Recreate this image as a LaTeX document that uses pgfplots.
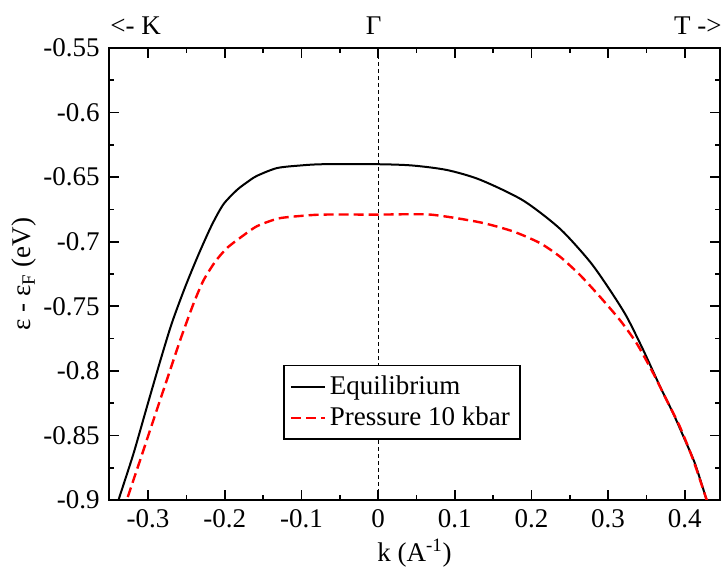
\documentclass[border=0pt]{standalone}
\usepackage{fontspec}
\setmainfont{Liberation Serif}
\usepackage{pgfplots}
\pgfplotsset{compat=1.18}
\begin{document}
\fontsize{13.5}{16}\selectfont
\begin{tikzpicture}
\path[use as bounding box] (-54.5pt,-35.5pt) rectangle (307.5pt,250pt);
\begin{axis}[
  name=ax,
  scale only axis, width=305.5pt, height=226pt,
  at={(0,0)}, anchor=south west,
  xmin=-0.351, xmax=0.446, ymin=-0.9, ymax=-0.55,
  xtick={-0.3,-0.2,-0.1,0,0.1,0.2,0.3,0.4},
  xticklabels={-0.3,-0.2,-0.1,0,0.1,0.2,0.3,0.4},
  ytick={-0.9,-0.85,-0.8,-0.75,-0.7,-0.65,-0.6,-0.55},
  yticklabels={-0.9,-0.85,-0.8,-0.75,-0.7,-0.65,-0.6,-0.55},
  minor x tick num=1, minor y tick num=1,
  tick align=inside, major tick length=5pt, minor tick length=2.5pt,
  axis line style={line width=1pt}, every tick/.style={black, line width=0.8pt},
  xlabel={k (A\textsuperscript{-1})},
  ylabel={ε - ε\textsubscript{F} (eV)},
  xlabel style={at={(axis description cs:0.5,-0.117)}, anchor=center},
  ylabel style={at={(axis description cs:-0.139,0.5)}, anchor=center},
  legend style={at={(rel axis cs:0.2848,0.2993)}, anchor=north west, draw=black, line width=0.8pt, font=\fontsize{13.5}{16}\selectfont, inner sep=3pt},
  legend cell align=left,
  legend image post style={line width=1pt},
]
\addplot[black, forget plot, dash pattern=on 2pt off 1.5pt, line width=0.5pt] coordinates {(0,-0.9) (0,-0.55)};
\addplot[black, line width=1pt, smooth, tension=0.45] coordinates {
(-0.343,-0.909) (-0.3386,-0.900) (-0.319,-0.864) (-0.3016,-0.828) (-0.284,-0.792)
(-0.269,-0.763) (-0.2516,-0.735) (-0.2343,-0.710) (-0.2168,-0.687) (-0.2017,-0.671)
(-0.1842,-0.660) (-0.171,-0.654) (-0.158,-0.649) (-0.132,-0.643) (-0.102,-0.641)
(-0.072,-0.640) (0.0,-0.640) (0.045,-0.641) (0.09,-0.6445) (0.133,-0.652)
(0.189,-0.668) (0.2373,-0.690) (0.2764,-0.7155) (0.3025,-0.7375) (0.3242,-0.758)
(0.346,-0.784) (0.3677,-0.812) (0.385,-0.833) (0.4003,-0.8536) (0.4133,-0.8717)
(0.4286,-0.900) (0.433,-0.909)
};
\addlegendentry{Equilibrium}
\addplot[red, line width=1.2pt, dash pattern=on 5pt off 2.5pt, smooth, tension=0.4] coordinates {
(-0.331,-0.909) (-0.3277,-0.900) (-0.3103,-0.869) (-0.293,-0.838) (-0.2755,-0.807)
(-0.258,-0.776) (-0.2408,-0.748) (-0.2278,-0.730) (-0.2125,-0.7155) (-0.1973,-0.705)
(-0.18,-0.697) (-0.158,-0.688) (-0.130,-0.682) (-0.100,-0.680) (-0.072,-0.679)
(0,-0.679) (0.068,-0.679) (0.133,-0.685) (0.176,-0.692) (0.211,-0.701)
(0.2373,-0.7116) (0.2634,-0.7258) (0.2894,-0.7426) (0.3155,-0.7607) (0.3373,-0.7787)
(0.359,-0.802) (0.3764,-0.8227) (0.3937,-0.8433) (0.4111,-0.8691) (0.4286,-0.900)
(0.433,-0.909)
};
\addlegendentry{Pressure 10 kbar}
\end{axis}
\node[anchor=base west, inner sep=0pt] at ([xshift=0.5pt,yshift=6.5pt]ax.north west) {<- K};
\node[anchor=base east, inner sep=0pt] at ([xshift=1pt,yshift=6.5pt]ax.north east) {T ->};
\node[anchor=base, inner sep=0pt] at ([xshift=132.4pt,yshift=6.5pt]ax.north west) {Γ};
\end{tikzpicture}
\end{document}
